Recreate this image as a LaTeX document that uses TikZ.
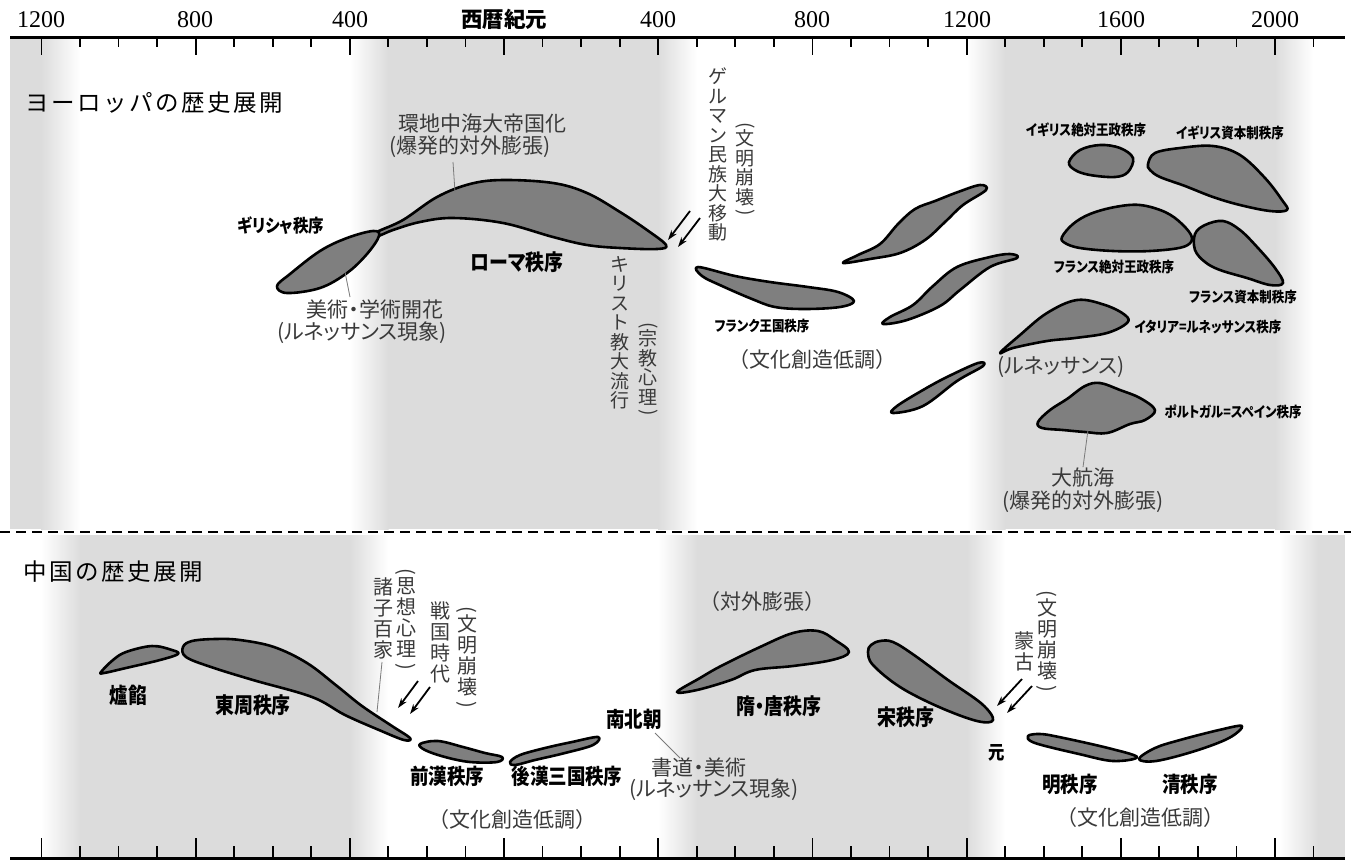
\documentclass[tikz,border=0pt]{standalone}
\usepackage{graphicx}
\usepackage{fontspec}
\setmainfont{Liberation Serif}
\newfontfamily\jp{Noto Sans CJK JP}
\newfontfamily\jpp{Noto Sans CJK JP}[RawFeature=+palt]
\usetikzlibrary{arrows.meta}
\definecolor{band}{HTML}{DCDCDC}
\definecolor{blobfill}{HTML}{7F7F7F}
\definecolor{notecol}{HTML}{3A3A3A}
\definecolor{leadercol}{HTML}{7A7A7A}
\newcommand\vlp{\rotatebox[origin=c]{-90}{(}}
\newcommand\vrp{\rotatebox[origin=c]{-90}{)}}
\newcommand\cnd[1]{\scalebox{0.86}[1]{#1}}
\tikzset{
  blob/.style={fill=blobfill, draw=black, line width=2.6pt, line join=round},
  blbl/.style={font=\jpp\bfseries\fontsize{#1}{#1}\selectfont, inner sep=0pt, text=black},
  note/.style={font=\jpp\fontsize{21}{23}\selectfont, inner sep=0pt, text=notecol},
  notefw/.style={font=\jp\fontsize{21}{23}\selectfont, inner sep=0pt, text=notecol},
  vt/.style={font=\jp\fontsize{19}{19.5}\selectfont, inner sep=0pt, text=notecol, align=center, anchor=north},
  vtc/.style={font=\jp\fontsize{20}{21}\selectfont, inner sep=0pt, text=notecol, align=center, anchor=north},
  yrlbl/.style={font=\rmfamily\fontsize{24}{26}\selectfont, inner sep=0pt},
  ttl/.style={font=\jp\fontsize{23.5}{26}\selectfont, inner sep=0pt, anchor=west},
  axisline/.style={line width=3pt},
  tickline/.style={line width=1.8pt},
  leader/.style={draw=leadercol, line width=0.8pt},
  invade/.style={line width=1.8pt, -{Stealth[length=10pt,width=6.5pt]}},
}
\begin{document}
\begin{tikzpicture}[x=1pt,y=-1pt]
\useasboundingbox (0,0) rectangle (1351,863);
% ---------- background bands, Europe ----------
\fill[band] (10,37) rectangle (41,529);
\shade[left color=band,right color=white] (41,37) rectangle (80,529);
\shade[left color=white,right color=band] (350,37) rectangle (388.5,529);
\fill[band] (388,37) rectangle (658.5,529);
\shade[left color=band,right color=white] (658,37) rectangle (697,529);
\shade[left color=white,right color=band] (967,37) rectangle (1005.5,529);
\fill[band] (1005,37) rectangle (1275.5,529);
\shade[left color=band,right color=white] (1275,37) rectangle (1313,529);
% ---------- background bands, China ----------
\shade[left color=white,right color=band] (41,535) rectangle (80.5,858);
\fill[band] (80,535) rectangle (350.5,858);
\shade[left color=band,right color=white] (350,535) rectangle (388,858);
\shade[left color=white,right color=band] (658,535) rectangle (697.5,858);
\fill[band] (697,535) rectangle (967.5,858);
\shade[left color=band,right color=white] (967,535) rectangle (1005,858);
\shade[left color=white,right color=band] (1280,535) rectangle (1318.5,858);
\fill[band] (1318,535) rectangle (1345,858);
% ---------- separator ----------
\draw[line width=2pt, dash pattern=on 10pt off 6pt] (0,532) -- (1351,532);
% ---------- axes ----------
\draw[axisline] (10,37) -- (1345,37);
\draw[axisline] (10,858) -- (1345,858);
\foreach \yr in {-1200,-1100,...,2100}{
  \pgfmathsetmacro\tx{504+0.3855*\yr}
  \draw[tickline] (\tx,37) -- (\tx,47);
  \draw[tickline] (\tx,858) -- (\tx,846);
}
\foreach \yr in {-1200,-800,-400,0,400,800,1200,1600,2000}{
  \pgfmathsetmacro\tx{504+0.3855*\yr}
  \draw[tickline] (\tx,37) -- (\tx,55);
  \draw[tickline] (\tx,858) -- (\tx,838);
}
\node[yrlbl] (t1) at (41,20) {1200};
\node[yrlbl] (t2) at (195,20) {800};
\node[yrlbl] (t3) at (350,20) {400};
\node[font=\jp\bfseries\fontsize{21.5}{23}\selectfont, inner sep=0pt] (t4) at (504,19) {西暦紀元};
\node[yrlbl] (t5) at (658,20) {400};
\node[yrlbl] (t6) at (812,20) {800};
\node[yrlbl] (t7) at (967,20) {1200};
\node[yrlbl] (t8) at (1121,20) {1600};
\node[yrlbl] (t9) at (1275,20) {2000};
% ---------- titles ----------
\node[ttl] (eutitle) at (25,103) {ヨ\kern2.5pt ー\kern2.5pt ロ\kern2.5pt ッ\kern2.5pt パ\kern2.5pt の\kern2.5pt 歴\kern2.5pt 史\kern2.5pt 展\kern2.5pt 開};
\node[ttl] (cntitle) at (23,572) {中\kern2.5pt 国\kern2.5pt の\kern2.5pt 歴\kern2.5pt 史\kern2.5pt 展\kern2.5pt 開};
% ---------- Europe shapes ----------
\draw[blob] plot[smooth cycle, tension=0.6] coordinates {(377,232) (403,220) (437,197) (470,184) (503,180) (553,183) (587,193) (620,212) (647,230) (666,245) (657,249) (620,248) (587,245) (553,237) (503,223) (453,218) (420,222) (393,230) (378,236)};
\draw[blob] plot[smooth cycle, tension=0.6] coordinates {(277,286) (290,274) (320,251) (347,238) (373,231) (379,236) (367,254) (347,273) (320,288) (287,293)};
\draw[blob] plot[smooth cycle, tension=0.6] coordinates {(698,267) (735,276) (770,282) (808,287) (838,292) (854,301) (840,307) (805,309) (775,307) (752,299) (722,286) (702,276)};
\draw[blob] plot[smooth cycle, tension=0.6] coordinates {(843,263) (870,259) (900,253) (925,240) (945,222) (963,205) (986,190) (980,185) (958,192) (935,201) (915,209) (898,224) (880,244) (858,255)};
\draw[blob] plot[smooth cycle, tension=0.6] coordinates {(883,324) (907,320) (940,306) (960,290) (990,267) (1017,258) (1010,254) (990,257) (957,267) (933,286) (913,305) (890,317)};
\draw[blob] plot[smooth cycle, tension=0.6] coordinates {(893,413) (923,406) (957,381) (983,366) (978,363) (947,377) (923,390) (897,406)};
\draw[blob] plot[smooth cycle, tension=0.6] coordinates {(1069,162) (1080,150) (1100,145) (1120,148) (1133,158) (1128,172) (1115,177) (1090,175) (1075,170)};
\draw[blob] plot[smooth cycle, tension=0.6] coordinates {(1148,164) (1155,153) (1180,148) (1213,146) (1240,155) (1265,178) (1282,200) (1287,210) (1270,211) (1240,205) (1213,197) (1185,186) (1160,177) (1150,170)};
\draw[blob] plot[smooth cycle, tension=0.6] coordinates {(1062,237) (1073,224) (1090,214) (1115,207) (1140,205) (1165,212) (1182,224) (1192,238) (1183,247) (1150,251) (1113,251) (1080,248) (1065,243)};
\draw[blob] plot[smooth cycle, tension=0.6] coordinates {(1195,234) (1205,225) (1223,221) (1240,230) (1258,248) (1275,268) (1283,283) (1270,285) (1247,278) (1220,270) (1205,262) (1195,250)};
\draw[blob] plot[smooth cycle, tension=0.6] coordinates {(1000,353) (1020,335) (1047,313) (1077,300) (1105,305) (1125,315) (1127,323) (1107,333) (1075,338) (1047,341) (1013,348)};
\draw[blob] plot[smooth cycle, tension=0.6] coordinates {(1038,422) (1050,410) (1067,399) (1085,386) (1100,383) (1120,390) (1140,398) (1155,410) (1145,420) (1130,424) (1107,433) (1085,432) (1063,430) (1042,428)};
% ---------- China shapes ----------
\draw[blob] plot[smooth cycle, tension=0.6] coordinates {(101,672) (113,660) (126,652) (152,646) (172,650) (178,654) (160,660) (126,668) (104,673)};
\draw[blob] plot[smooth cycle, tension=0.6] coordinates {(183,647) (192,641) (215,639) (240,640) (274,647) (307,663) (337,686) (362,706) (392,726) (410,738) (404,740) (379,730) (345,715) (312,697) (253,680) (211,667) (186,657)};
\draw[blob] plot[smooth cycle, tension=0.6] coordinates {(420,744) (438,741) (463,747) (485,753) (502,757) (497,762) (470,762) (445,757) (425,750)};
\draw[blob] plot[smooth cycle, tension=0.6] coordinates {(510,762) (520,755) (545,748) (572,742) (598,737) (593,745) (565,753) (535,760) (515,765)};
\draw[blob] plot[smooth cycle, tension=0.6] coordinates {(677,692) (700,678) (721,666) (760,647) (793,633) (818,631) (835,640) (849,652) (832,660) (793,666) (755,670) (731,680) (697,690)};
\draw[blob] plot[smooth cycle, tension=0.6] coordinates {(871,645) (880,641) (893,642) (914,655) (948,680) (982,704) (993,720) (977,721) (939,707) (900,687) (873,665) (868,652)};
\draw[blob] plot[smooth cycle, tension=0.6] coordinates {(1028,736) (1040,734) (1059,737) (1108,748) (1137,757) (1113,761) (1079,754) (1035,743)};
\draw[blob] plot[smooth cycle, tension=0.6] coordinates {(1139,759) (1155,748) (1180,740) (1219,730) (1242,726) (1229,738) (1195,751) (1156,761)};
% ---------- Europe labels ----------
\node[blbl=18] (greek) at (281,226) {\cnd{ギリシャ秩序}};
\node[blbl=22] (rome) at (517,262) {\cnd{ローマ秩序}};
\node[note] (kanchi) at (482,124) {環地中海大帝国化};
\node[note] (bakuhatsuA) at (470,147) {(爆発的対外膨張)};
\node[note] (bijutsu) at (375,309) {美術・学術開花};
\node[note] (renaisA) at (362,333) {(ルネッサンス現象)};
\node[blbl=14.5] (frank) at (762,326) {\cnd{フランク王国秩序}};
\node[notefw] (teichoA) at (812,360) {（文化創造低調）};
\node[blbl=14.5] (engabs) at (1086,130) {\cnd{イギリス絶対王政秩序}};
\node[blbl=14.5] (engcap) at (1230,133) {\cnd{イギリス資本制秩序}};
\node[blbl=14.5] (frabs) at (1114,267) {\cnd{フランス絶対王政秩序}};
\node[blbl=14.5] (frcap) at (1243,297) {\cnd{フランス資本制秩序}};
\node[blbl=14.5] (italy) at (1208,327) {\cnd{イタリア=ルネッサンス秩序}};
\node[note] (renaisB) at (1061,367) {(ルネッサンス)};
\node[blbl=14.5] (portugal) at (1233,412) {\cnd{ポルトガル=スペイン秩序}};
\node[note] (daikokai) at (1083,477) {大航海};
\node[note] (bakuhatsuB) at (1083,502) {(爆発的対外膨張)};
% vertical texts, Europe
\node[vt] (german) at (718,68) {ゲ\\ル\\マ\\ン\\民\\族\\大\\移\\動};
\node[vt] (collapseA) at (745,122) {\vlp\\[-5pt]文\\明\\崩\\壊\\[-5pt]\vrp};
\node[vt] (christ) at (620,256) {キ\\リ\\ス\\ト\\教\\大\\流\\行};
\node[vt] (religion) at (648,322) {\vlp\\[-5pt]宗\\教\\心\\理\\[-5pt]\vrp};
% leaders, Europe
\coordinate (kanchiTop) at (453,162);
\coordinate (kanchiEnd) at (455,192);
\coordinate (bijutsuEnd) at (345,272);
\coordinate (bijutsuTop) at (350,297);
\coordinate (daikokaiEnd) at (1088,430);
\draw[leader] (kanchiTop) -- (kanchiEnd);
\draw[leader] (bijutsuEnd) -- (bijutsuTop);
\draw[leader] (daikokaiEnd) -- (daikokai.north);
% arrows, Europe
\coordinate (ea1s) at (690,211); \coordinate (ea1e) at (668,240);
\coordinate (ea2s) at (700,218); \coordinate (ea2e) at (678,247);
\draw[invade] (ea1s) -- (ea1e);
\draw[invade] (ea2s) -- (ea2e);
% ---------- China labels ----------
\node[blbl=21.5] (lu) at (128,695) {\cnd{爐餡}};
\node[blbl=22] (dongzhou) at (253,705) {\cnd{東周秩序}};
\node[blbl=21.5] (qianhan) at (447,776) {\cnd{前漢秩序}};
\node[blbl=21.5] (houhan) at (567,776) {\cnd{後漢三国秩序}};
\node[notefw] (teichoB) at (512,820) {（文化創造低調）};
\node[blbl=21.5] (nanbei) at (634,719) {\cnd{南北朝}};
\node[note] (shodo) at (699,768) {書道・美術};
\node[note] (renaisC) at (714,790) {(ルネッサンス現象)};
\node[blbl=22] (suitang) at (779,706) {\cnd{隋・唐秩序}};
\node[notefw] (taigai) at (762,602) {（対外膨張）};
\node[blbl=22] (song) at (906,717) {\cnd{宋秩序}};
\node[blbl=19] (yuan) at (997,753) {\cnd{元}};
\node[blbl=21.5] (ming) at (1070,784) {\cnd{明秩序}};
\node[blbl=21.5] (qing) at (1190,784) {\cnd{清秩序}};
\node[notefw] (teichoC) at (1140,818) {（文化創造低調）};
% vertical texts, China
\node[vtc] (shoshi) at (383,577) {諸\\子\\百\\家};
\node[vtc] (shiso) at (406,568) {\vlp\\[-5pt]思\\想\\心\\理\\[-5pt]\vrp};
\node[vtc] (sengoku) at (440,602) {戦\\国\\時\\代};
\node[vtc] (collapseB) at (467,606) {\vlp\\[-5pt]文\\明\\崩\\壊\\[-5pt]\vrp};
\node[vtc] (moko) at (1024,631) {蒙\\古};
\node[vtc] (collapseC) at (1047,590) {\vlp\\[-5pt]文\\明\\崩\\壊\\[-5pt]\vrp};
% leaders, China
\coordinate (shoshiTop) at (382,662);
\coordinate (shoshiEnd) at (377,712);
\coordinate (nanbeiTop) at (655,733);
\coordinate (nanbeiEnd) at (680,758);
\draw[leader] (shoshiTop) -- (shoshiEnd);
\draw[leader] (nanbeiTop) -- (nanbeiEnd);
% arrows, China
\coordinate (ca1s) at (418,681); \coordinate (ca1e) at (398,708);
\coordinate (ca2s) at (430,687); \coordinate (ca2e) at (410,714);
\draw[invade] (ca1s) -- (ca1e);
\draw[invade] (ca2s) -- (ca2e);
\coordinate (ca3s) at (1022,679); \coordinate (ca3e) at (997,706);
\coordinate (ca4s) at (1032,686); \coordinate (ca4e) at (1007,713);
\draw[invade] (ca3s) -- (ca3e);
\draw[invade] (ca4s) -- (ca4e);
\end{tikzpicture}
\end{document}
